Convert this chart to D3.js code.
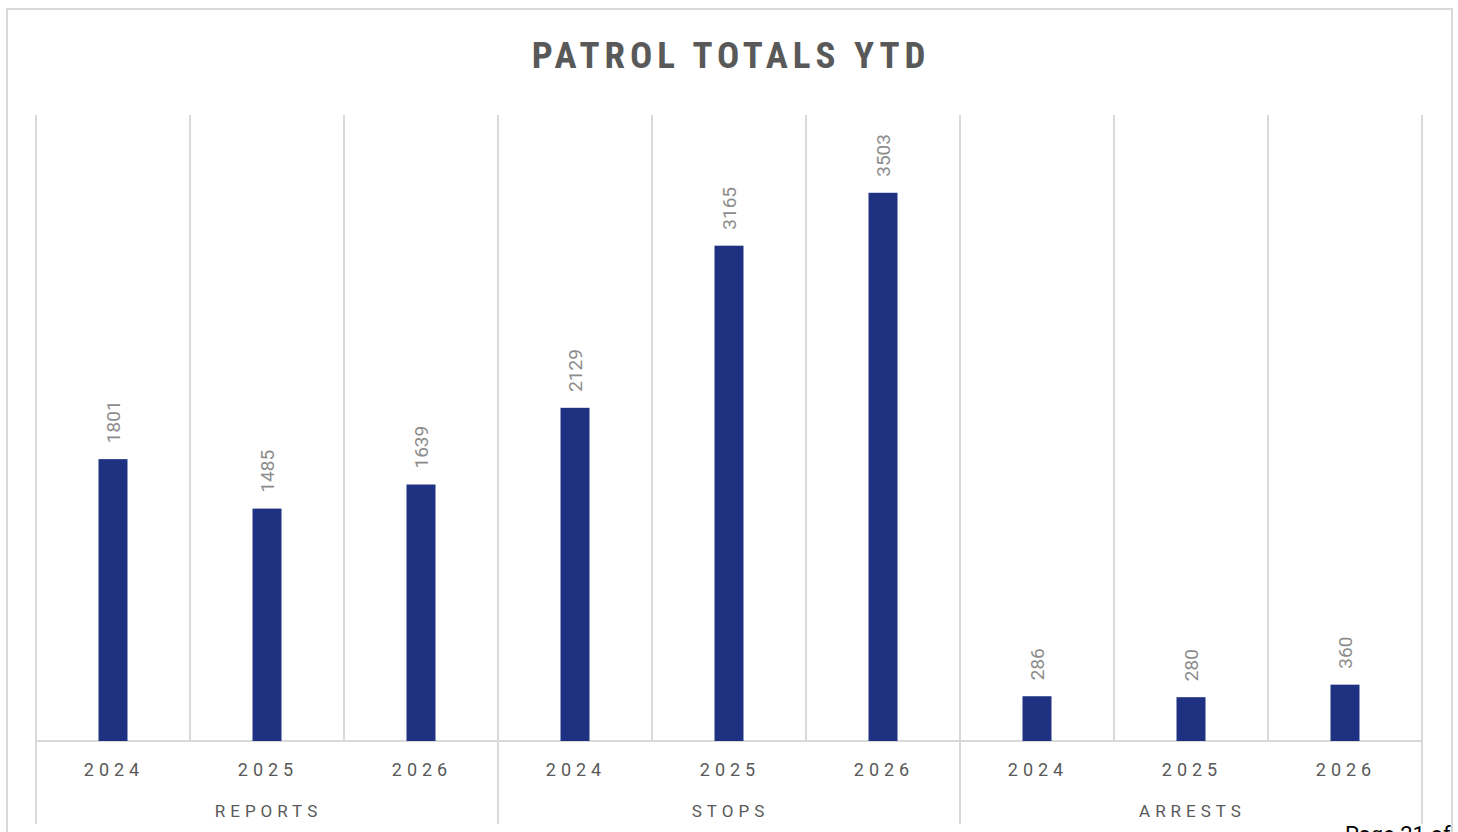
<!DOCTYPE html>
<html>
<head>
<meta charset="utf-8">
<script src="https://cdn.jsdelivr.net/npm/d3@7"></script>
<style>
  html, body { margin: 0; padding: 0; background: #fff; overflow: hidden; }
  svg { display: block; }
</style>
</head>
<body>
<div id="chart"></div>
<script>
// Chart data
const groups = ["REPORTS", "STOPS", "ARRESTS"];
const years = ["2024", "2025", "2026"];
const reports = [1801, 1485, 1639];
const stops = [2129, 3165, 3503];
const arrests = [286, 280, 360];
const yTicks = [0, 4000];

const width = 1458, height = 832;
const margin = { top: 115, left: 36, right: 36, bottom: 91 };

const seriesByGroup = { REPORTS: reports, STOPS: stops, ARRESTS: arrests };
const rows = [];
groups.forEach(g => {
  years.forEach((y, i) => rows.push({ key: g + "-" + y, group: g, year: y, value: seriesByGroup[g][i] }));
});

const svg = d3.select("#chart")
  .append("svg")
    .attr("width", width)
    .attr("height", height);

// Outer frame
svg.append("rect")
  .attr("x", 7).attr("y", 9)
  .attr("width", 1445).attr("height", 900)
  .attr("fill", "none")
  .attr("stroke", "#d9d9d9")
  .attr("stroke-width", 2);

// Title
svg.append("text")
  .text("PATROL TOTALS YTD")
  .attr("x", 731)
  .attr("y", 68)
  .attr("text-anchor", "middle")
  .attr("fill", "#595959")
  .style("font-family", "'Liberation Sans Narrow', 'Roboto Condensed', Arial, sans-serif")
  .style("font-weight", "bold")
  .style("font-size", "37px")
  .style("letter-spacing", "5px");

// Scales
const xScale = d3.scaleBand()
  .domain(rows.map(d => d.key))
  .range([margin.left, width - margin.right])
  .paddingInner(0)
  .paddingOuter(0);

const yScale = d3.scaleLinear()
  .domain(d3.extent(yTicks))
  .range([height - margin.bottom, margin.top]);

const baseY = yScale(0);
const bw = xScale.bandwidth();
const barW = 29;

// Vertical gridlines between categories
const grid = svg.append("g").attr("stroke", "#d9d9d9").attr("stroke-width", 2);
rows.forEach((d, i) => {
  const x = xScale(d.key);
  const isGroupEdge = i % years.length === 0;
  grid.append("line")
    .attr("x1", x).attr("x2", x)
    .attr("y1", margin.top)
    .attr("y2", isGroupEdge ? 824 : baseY);
});
grid.append("line")
  .attr("x1", width - margin.right).attr("x2", width - margin.right)
  .attr("y1", margin.top).attr("y2", 824);

// Axis baseline
grid.append("line")
  .attr("x1", margin.left).attr("x2", width - margin.right)
  .attr("y1", baseY).attr("y2", baseY);

// Bars
svg.selectAll(".bar")
  .data(rows)
  .join("rect")
    .attr("class", "bar")
    .attr("x", d => xScale(d.key) + bw / 2 - barW / 2)
    .attr("y", d => yScale(d.value))
    .attr("width", barW)
    .attr("height", d => baseY - yScale(d.value))
    .attr("fill", "#1f3282");

// Value labels (rotated)
svg.selectAll(".value-label")
  .data(rows)
  .join("text")
    .attr("class", "value-label")
    .text(d => d.value)
    .attr("transform", d => `translate(${xScale(d.key) + bw / 2 + 7}, ${yScale(d.value) - 16}) rotate(-90)`)
    .attr("text-anchor", "start")
    .attr("fill", "#8c8c8c")
    .style("font-family", "Roboto, 'Liberation Sans', sans-serif")
    .style("font-size", "19px");

// Year labels
svg.selectAll(".year-label")
  .data(rows)
  .join("text")
    .attr("class", "year-label")
    .text(d => d.year)
    .attr("x", d => xScale(d.key) + bw / 2 + 1)
    .attr("y", 776)
    .attr("text-anchor", "middle")
    .attr("fill", "#595959")
    .style("font-family", "Roboto, 'Liberation Sans', sans-serif")
    .style("font-size", "18px")
    .style("letter-spacing", "5px");

// Group labels
svg.selectAll(".group-label")
  .data(groups)
  .join("text")
    .attr("class", "group-label")
    .text(d => d)
    .attr("x", g => (xScale(g + "-" + years[0]) + xScale(g + "-" + years[years.length - 1]) + bw) / 2 + 1.5)
    .attr("y", 817)
    .attr("text-anchor", "middle")
    .attr("fill", "#595959")
    .style("font-family", "Roboto, 'Liberation Sans', sans-serif")
    .style("font-size", "17px")
    .style("letter-spacing", "5px");

// Page footer text (cut off at bottom, as in the source)
svg.append("text")
  .text("Page 21 of")
  .attr("x", 1345)
  .attr("y", 842)
  .attr("fill", "#000")
  .style("font-family", "Roboto, 'Liberation Sans', sans-serif")
  .style("font-size", "22px");
</script>
</body>
</html>
